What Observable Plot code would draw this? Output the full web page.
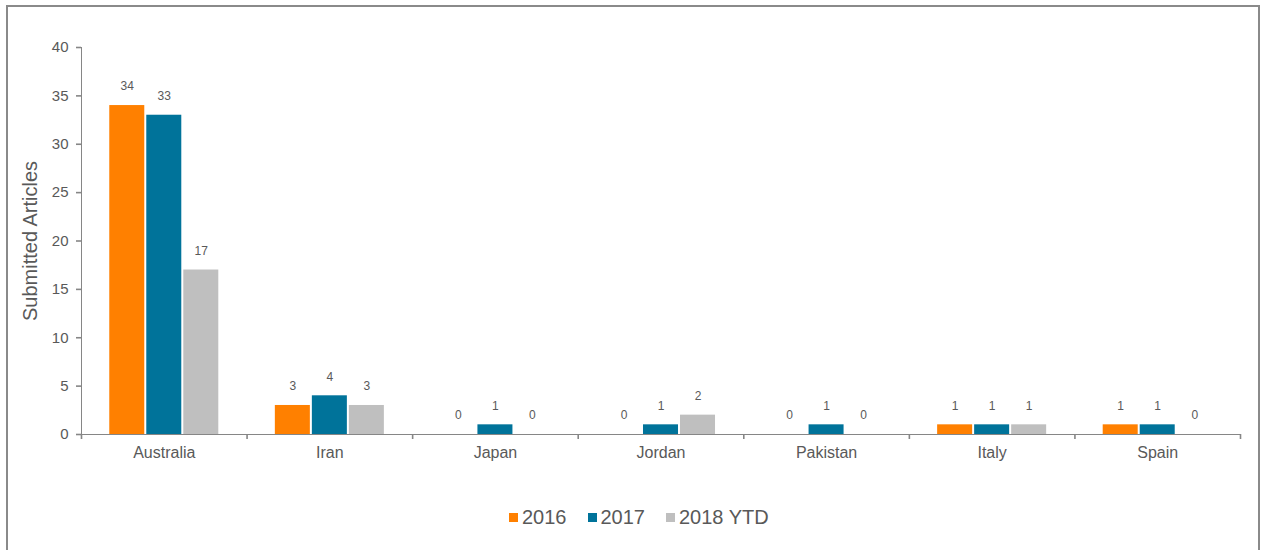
<!DOCTYPE html>
<html><head><meta charset="utf-8">
<script src="https://cdn.jsdelivr.net/npm/d3@7"></script>
<script src="https://cdn.jsdelivr.net/npm/@observablehq/plot@0.6"></script>
<style>
body{margin:0;background:#fff;font-family:"Liberation Sans",Arial,sans-serif;}
#wrap{position:relative;width:1261px;height:550px;overflow:hidden;}
#frame{position:absolute;left:6px;top:5px;width:1254px;height:570px;border:2px solid #8a8a8a;box-sizing:border-box;}
#chart{position:absolute;left:0;top:0;}
#chart svg text{fill:#595959;}
#chart svg g[aria-label*="axis"] path, #chart svg g[aria-label*="axis"] line{stroke-width:1.6px;}
#legend{position:absolute;left:509px;top:505px;display:flex;align-items:center;font-size:20px;color:#595959;line-height:24px;}
#legend .item{display:flex;align-items:center;margin-right:21px;}
#legend .sw{width:9px;height:9px;margin-right:4px;}
</style>
</head><body>
<div id="wrap"><div id="frame"></div><div id="chart"></div><div id="legend"></div></div>
<script>
const countries = ["Australia","Iran","Japan","Jordan","Pakistan","Italy","Spain"];
const seriesNames = ["2016","2017","2018 YTD"];
const v2016 = [34,3,0,0,0,1,1];
const v2017 = [33,4,1,1,1,1,1];
const v2018 = [17,3,0,2,0,1,0];
const colors = ["#FF8000","#00739A","#BFBFBF"];
const yTicks = [0,5,10,15,20,25,30,35,40];

const inner = d3.scaleBand().domain(seriesNames).range([0,1]).paddingInner(0.054).paddingOuter(0.764);
const seriesVals = [v2016, v2017, v2018];
const rows = [];
countries.forEach((c,i) => {
  seriesNames.forEach((s,k) => {
    const x1 = i + inner(s);
    rows.push({country:c, series:s, value:seriesVals[k][i], x1, x2: x1 + inner.bandwidth()});
  });
});

const chart = Plot.plot({
  width: 1261,
  height: 480,
  marginTop: 47,
  marginBottom: 46,
  marginLeft: 81,
  marginRight: 21,
  style: {fontFamily: '"Liberation Sans", Arial, sans-serif', color: "#868686", background: "transparent", fontSize: "15px"},
  x: {domain: [0, countries.length], ticks: countries.length, tickFormat: () => "", tickSize: 5, line: true, label: null},
  y: {domain: [0, 40], ticks: yTicks, tickSize: 5, tickPadding: 8, line: true, label: null},
  color: {domain: seriesNames, range: colors},
  marks: [
    Plot.rectY(rows, {x1: "x1", x2: "x2", y: "value", fill: "series"}),
    Plot.text(rows, {x: d => (d.x1 + d.x2) / 2, y: "value", text: d => String(d.value), dy: -19, fontSize: 12, fill: "#595959"}),
    Plot.text(countries, {x: (d,i) => i + 0.5, y: () => 0, text: d => d, dy: 18, fontSize: 16, fill: "#595959"}),
    Plot.text(["Submitted Articles"], {frameAnchor: "left", textAnchor: "middle", dx: -51, rotate: -90, text: d => d, fontSize: 20, fill: "#595959"})
  ]
});
document.getElementById("chart").appendChild(chart);

const legend = document.getElementById("legend");
seriesNames.forEach((s,k) => {
  const it = document.createElement("div");
  it.className = "item";
  const sw = document.createElement("div");
  sw.className = "sw";
  sw.style.background = colors[k];
  const t = document.createElement("span");
  t.textContent = s;
  it.appendChild(sw); it.appendChild(t);
  legend.appendChild(it);
});
</script>
</body></html>
